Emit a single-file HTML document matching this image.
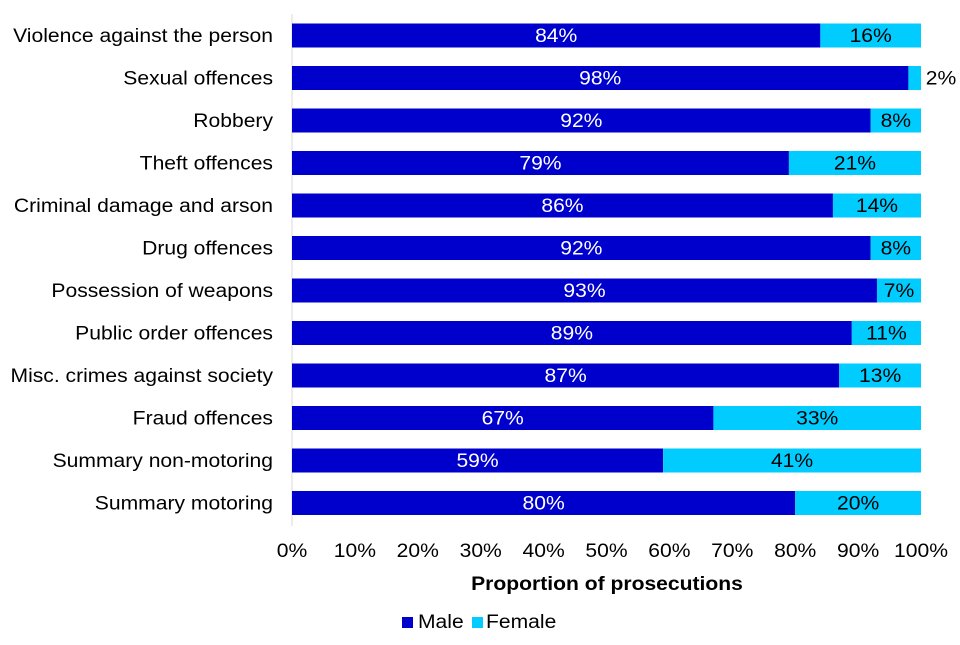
<!DOCTYPE html>
<html><head><meta charset="utf-8"><style>
body{margin:0;background:#fff}
svg text{font-family:"Liberation Sans",Arial,sans-serif;font-size:19px}
</style></head><body>
<svg width="960" height="640">
<g id="plot"></g>
</svg>
<script>
const categories=["Violence against the person","Sexual offences","Robbery","Theft offences","Criminal damage and arson","Drug offences","Possession of weapons","Public order offences","Misc. crimes against society","Fraud offences","Summary non-motoring","Summary motoring"];
const male=[84,98,92,79,86,92,93,89,87,67,59,80];
const female=[16,2,8,21,14,8,7,11,13,33,41,20];
const ticks=[0,10,20,30,40,50,60,70,80,90,100];
const NS="http://www.w3.org/2000/svg";
const g=document.getElementById('plot');
const x0=292,x1=921,yTop=14,step=42.5,bh=24;
const xs=v=>x0+(x1-x0)*v/100;
const yc=i=>35.5+i*step;
function el(t,a,txt){const e=document.createElementNS(NS,t);for(const k in a)e.setAttribute(k,a[k]);if(txt!==undefined)e.textContent=txt;g.appendChild(e);
 if(t==='text'){const w=e.getComputedTextLength();e.setAttribute('textLength',(w*1.11).toFixed(1));e.setAttribute('lengthAdjust','spacingAndGlyphs');}
 return e;}
const ax=el('line',{x1:x0,x2:x0,y1:yTop,y2:526,stroke:'#d9d9d9','stroke-width':1});


categories.forEach((c,i)=>{
 const y=yc(i);
 const l=el('text',{x:273,y:y+6.5,'text-anchor':'end',fill:'#000'},c);
 
 
 const m=el('rect',{x:xs(0),y:y-bh/2,width:xs(male[i])-xs(0),height:bh,fill:'#0000CC'});
 
 
 const f=el('rect',{x:xs(male[i]),y:y-bh/2,width:xs(male[i]+female[i])-xs(male[i]),height:bh,fill:'#00CCFF'});
 
 
 const mt=el('text',{x:(xs(0)+xs(male[i]))/2,y:y+6.5,'text-anchor':'middle',fill:'#fff'},male[i]+'%');
 
 
 const fx=female[i]<5?xs(100)+20:(xs(male[i])+xs(100))/2;
 const ft=el('text',{x:fx,y:y+6.5,'text-anchor':'middle',fill:'#000'},female[i]+'%');
 
 
});
ticks.forEach(t=>{
 const tl=el('text',{x:xs(t),y:557,'text-anchor':'middle',fill:'#000'},t+'%');
 
 
});
const at=el('text',{x:607,y:590,'text-anchor':'middle','font-weight':'bold',fill:'#000'},'Proportion of prosecutions');


const lm=el('rect',{x:402,y:617,width:11,height:11,fill:'#0000CC'});


const lmt=el('text',{x:418,y:628,fill:'#000'},'Male');


const lf=el('rect',{x:472,y:617,width:11,height:11,fill:'#00CCFF'});


const lft=el('text',{x:486,y:628,fill:'#000'},'Female');


</script>
</body></html>
